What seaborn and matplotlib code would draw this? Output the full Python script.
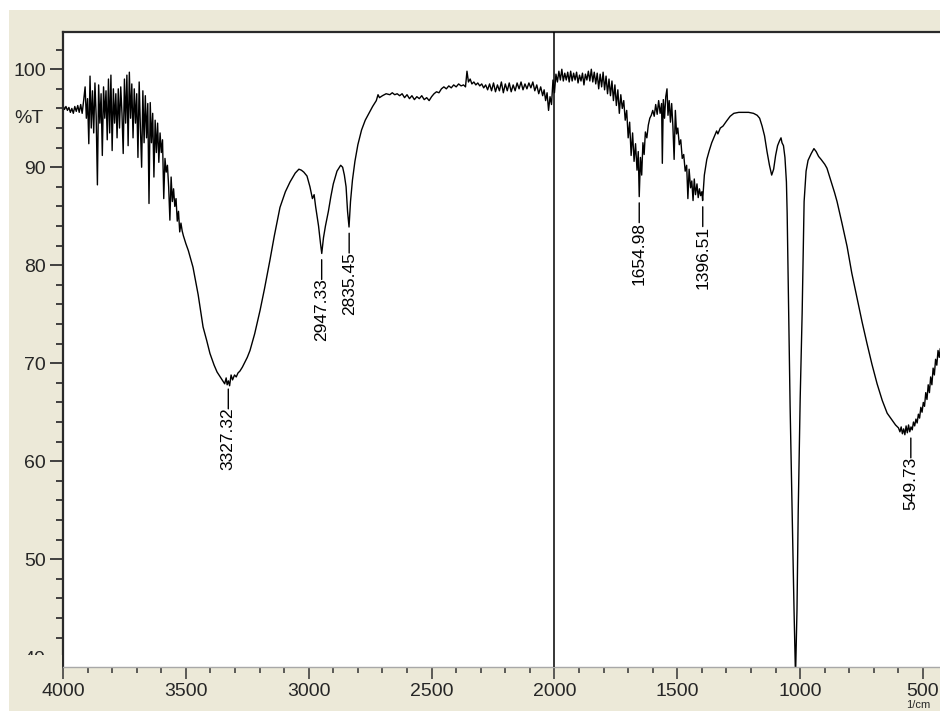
import numpy as np
import pandas as pd
import matplotlib
matplotlib.use("Agg")
import matplotlib.pyplot as plt
import seaborn as sns
from matplotlib.ticker import MultipleLocator
from matplotlib.patches import Rectangle
from matplotlib.transforms import blended_transform_factory

# ---------------- data ----------------
wn_oh_noise = [4000, 3994, 3988, 3982, 3976, 3970, 3964, 3958, 3952, 3946, 3940, 3934, 3928, 3922,
               3916, 3910, 3905, 3900, 3895, 3890, 3885, 3880, 3875, 3870, 3865, 3860, 3855, 3850,
               3845, 3840, 3835, 3830, 3825, 3820, 3815, 3810, 3805, 3800, 3795, 3790, 3785, 3780,
               3775, 3770, 3765, 3760, 3755, 3750, 3745, 3740, 3735, 3730, 3725, 3720, 3715, 3710,
               3705, 3700, 3695, 3690, 3685, 3680, 3675, 3670, 3665, 3660, 3655, 3650, 3645, 3640,
               3635, 3630, 3625, 3620, 3615, 3610, 3605, 3600, 3595, 3590, 3585, 3580, 3575, 3570,
               3565, 3560, 3555, 3550, 3545, 3540, 3535, 3530, 3525, 3520, 3515, 3510, 3505, 3500]
t_oh_noise = [96.3, 95.9, 96.2, 95.8, 96.1, 95.6, 96.0, 95.5, 96.2, 95.7, 96.3, 95.6, 96.4, 95.5,
              96.8, 98.2, 95.0, 97.0, 92.4, 99.3, 94.0, 97.8, 93.5, 98.6, 95.2, 88.2, 98.4, 94.5,
              97.5, 91.2, 98.2, 95.0, 97.8, 92.8, 99.0, 93.5, 99.4, 91.7, 98.0, 94.5, 97.5, 93.0,
              98.0, 94.0, 98.2, 95.5, 91.4, 99.0, 94.5, 99.4, 92.2, 99.7, 95.0, 98.5, 93.0, 98.0,
              94.5, 97.5, 91.0, 98.7, 94.0, 90.0, 97.8, 92.5, 97.3, 93.0, 96.5, 86.3, 96.6, 92.5,
              95.5, 89.0, 94.8, 91.5, 94.5, 90.5, 93.5, 91.5, 92.8, 86.8, 90.9, 89.5, 90.2, 88.0,
              84.6, 89.0, 86.5, 87.8, 86.0, 86.8, 84.5, 85.5, 83.4, 84.3, 83.5, 83.0, 82.6, 82.2]

wn_oh_band = [3490, 3471, 3450, 3430, 3415, 3402, 3385, 3373, 3360, 3350, 3342, 3336, 3332, 3327,
              3322, 3316, 3310, 3302, 3295, 3288, 3280, 3270, 3260, 3250, 3239, 3220, 3198, 3180,
              3158, 3140, 3117, 3095, 3076, 3055, 3040, 3030, 3020, 3007, 2995, 2985, 2978, 2972,
              2960, 2952, 2947, 2940, 2932, 2920, 2910, 2900, 2885, 2870, 2862, 2855, 2848, 2842,
              2836, 2830, 2822, 2812, 2800, 2785, 2770, 2755, 2740, 2725, 2718, 2712, 2700, 2685,
              2670]
t_oh_band = [81.5, 79.8, 77.0, 73.7, 72.3, 71.0, 69.8, 69.1, 68.6, 68.2, 67.9, 68.5, 67.8, 68.2,
             67.7, 68.8, 68.3, 68.8, 68.6, 69.0, 69.2, 69.6, 70.1, 70.6, 71.3, 73.0, 75.4, 77.6,
             80.5, 83.0, 85.9, 87.5, 88.5, 89.4, 89.8, 89.7, 89.5, 89.1, 88.0, 86.8, 87.2, 86.0,
             84.0, 82.2, 81.2, 82.8, 84.0, 85.5, 87.0, 88.3, 89.6, 90.2, 90.0, 89.2, 88.0, 85.5,
             83.9, 86.5, 88.7, 90.6, 92.3, 93.8, 94.8, 95.5, 96.2, 96.8, 97.4, 97.1, 97.3, 97.5,
             97.4]

wn_plateau = [2660, 2650, 2640, 2630, 2620, 2610, 2600, 2590, 2580, 2570, 2560, 2550, 2540, 2530,
              2520, 2510, 2500, 2490, 2480, 2470, 2460, 2450, 2440, 2430, 2420, 2410, 2400, 2390,
              2380, 2370, 2362, 2356, 2350, 2343, 2336, 2328, 2320, 2312, 2304, 2296, 2288, 2280,
              2272, 2264, 2256, 2248, 2240, 2232, 2224, 2216, 2208, 2200, 2192, 2184, 2176, 2168,
              2160, 2152, 2144, 2136, 2128, 2120, 2112, 2104, 2096, 2088, 2080, 2072, 2064, 2056,
              2048, 2042, 2036, 2030, 2024, 2018, 2012, 2006, 2000]
t_plateau = [97.6, 97.4, 97.5, 97.3, 97.5, 97.1, 97.4, 97.0, 97.3, 96.9, 97.2, 97.0, 97.3, 96.9,
             97.1, 96.8, 97.2, 97.5, 97.7, 97.6, 98.0, 98.2, 98.0, 98.3, 98.1, 98.4, 98.2, 98.5,
             98.3, 98.4, 98.2, 99.8, 98.7, 99.0, 98.5, 98.7, 98.4, 98.6, 98.3, 98.5, 98.1, 98.4,
             97.9, 98.5, 97.8, 98.6, 97.7, 98.4, 97.8, 98.7, 97.6, 98.5, 97.8, 98.6, 97.7, 98.4,
             97.8, 98.6, 98.0, 98.7, 97.9, 98.5, 98.0, 98.6, 98.1, 98.7, 97.8, 98.4, 97.5, 98.2,
             97.3, 97.9, 96.8, 97.6, 95.8, 97.2, 96.4, 98.9, 97.6]

wn_fingerprint = [1994, 1988, 1982, 1976, 1970, 1964, 1958, 1952, 1946, 1940, 1934, 1928, 1922, 1916,
                  1910, 1904, 1898, 1892, 1886, 1880, 1874, 1868, 1862, 1856, 1850, 1844, 1838, 1832,
                  1826, 1820, 1814, 1808, 1802, 1796, 1790, 1784, 1778, 1772, 1766, 1760, 1754, 1748,
                  1742, 1736, 1730, 1724, 1718, 1712, 1706, 1700, 1694, 1688, 1682, 1676, 1670, 1664,
                  1659, 1655, 1650, 1645, 1640, 1635, 1630, 1624, 1618, 1612, 1606, 1600, 1594, 1588,
                  1582, 1576, 1570, 1564, 1561, 1557, 1552, 1547, 1542, 1538, 1533, 1528, 1523, 1518,
                  1513, 1508, 1503, 1498, 1492, 1486, 1480, 1474, 1468, 1462, 1457, 1452, 1446, 1441,
                  1436, 1431, 1426, 1420, 1415, 1410, 1405, 1400, 1397]
t_fingerprint = [99.5, 98.7, 99.8, 98.9, 100.0, 98.8, 99.6, 98.9, 99.7, 98.7, 99.8, 98.8, 99.6, 98.9,
                 99.7, 98.6, 99.4, 98.8, 99.6, 98.4, 99.5, 98.9, 99.8, 98.8, 100.0, 98.7, 99.7, 98.5,
                 99.6, 98.0, 99.5, 98.2, 99.7, 97.9, 99.3, 97.5, 99.0, 97.3, 98.8, 96.8, 98.4, 96.3,
                 97.9, 95.5, 97.4, 96.0, 96.8, 94.8, 95.8, 93.0, 94.6, 91.2, 93.5, 90.6, 92.4, 89.7,
                 91.6, 87.0, 91.0, 89.2, 92.5, 91.3, 93.6, 93.0, 94.3, 95.0, 95.3, 95.8, 95.2, 96.4,
                 95.4, 96.8, 95.5, 96.5, 90.4, 96.9, 95.0, 97.2, 98.0, 95.3, 96.8, 94.6, 96.5, 94.2,
                 90.8, 95.8, 93.4, 94.0, 92.3, 92.8, 90.9, 91.3, 89.6, 90.2, 86.8, 89.8, 87.9, 88.6,
                 86.6, 88.8, 87.2, 88.3, 86.9, 87.8, 87.1, 87.5, 86.6]

wn_low = [1390, 1380, 1370, 1360, 1350, 1340, 1335, 1325, 1314, 1300, 1285, 1270, 1250, 1230,
          1210, 1190, 1175, 1165, 1155, 1145, 1135, 1125, 1116, 1108, 1100, 1092, 1084, 1078,
          1074, 1068, 1062, 1056, 1053, 1047, 1041, 1033, 1025, 1019, 1013, 1008, 1000, 992,
          984, 976, 968, 955, 944, 935, 925, 915, 900, 891, 880, 870, 860, 850, 830, 809,
          790, 768, 748, 728, 708, 687, 666, 646, 626, 612, 600, 594, 589, 584, 579, 574,
          569, 564, 559, 554, 549, 544, 539, 534, 529, 524, 519, 514, 509, 504, 499, 494,
          489, 484, 479, 474, 469, 464, 459, 454, 449, 444, 439, 434, 430]
t_low = [89.2, 90.8, 91.7, 92.5, 93.1, 93.7, 93.4, 94.0, 94.2, 94.7, 95.2, 95.5, 95.6, 95.6,
         95.6, 95.5, 95.3, 95.0, 94.2, 93.2, 91.6, 90.2, 89.2, 89.8, 91.2, 92.2, 92.7, 93.0,
         92.5, 92.2, 91.0, 88.5, 85.3, 75.5, 65.6, 54.9, 44.8, 38.0, 44.8, 54.9, 66.4, 75.1,
         86.5, 89.6, 90.7, 91.4, 91.9, 91.6, 91.1, 90.8, 90.3, 89.9, 89.0, 88.2, 87.4, 86.5, 84.3, 81.9,
         79.2, 76.6, 74.2, 72.0, 69.9, 67.9, 66.2, 64.9, 64.2, 63.7, 63.4, 63.0, 63.5, 62.8, 63.3, 62.7,
         63.6, 62.9, 63.7, 63.0, 63.5, 63.2, 64.0, 63.6, 64.3, 63.9, 64.8, 64.4, 65.5, 65.0, 66.0, 65.6,
         67.0, 66.3, 67.8, 67.0, 68.6, 67.8, 69.5, 68.8, 70.4, 69.8, 71.3, 70.6, 71.5]

peak_wn = [3327.32, 2947.33, 2835.45, 1654.98, 1396.51, 549.73]
peak_t = [68.0, 81.2, 83.9, 87.0, 86.6, 63.0]
peak_labels = ["3327.32", "2947.33", "2835.45", "1654.98", "1396.51", "549.73"]

x_ticks = [4000, 3500, 3000, 2500, 2000, 1500, 1000, 500]
y_ticks = [40, 50, 60, 70, 80, 90, 100]

# ---------------- figure ----------------
sns.set_style("white")
plt.rcParams["font.family"] = ["Liberation Sans", "DejaVu Sans"]

W, H = 940, 711
BEIGE = "#ECE9D8"
fig = plt.figure(figsize=(W / 100, H / 100), dpi=100, facecolor="white")
fig.patches.append(Rectangle((9 / W, 0), 1 - 9 / W, 1 - 10 / H, transform=fig.transFigure,
                             facecolor=BEIGE, edgecolor="none", zorder=-10))

ax = fig.add_axes([63 / W, 1 - 667 / H, (W - 63) / W, (667 - 32) / H])
ax.set_facecolor("white")

df = pd.DataFrame({
    "wn": wn_oh_noise + wn_oh_band + wn_plateau + wn_fingerprint + wn_low,
    "T": t_oh_noise + t_oh_band + t_plateau + t_fingerprint + t_low,
})
sns.lineplot(data=df, x="wn", y="T", color="black", lw=1.0, estimator=None, sort=False,
             ax=ax, legend=False)

ax.axvline(2000, color="black", lw=1.1, zorder=3)

ax.set_xlim(4000, 431)
ax.set_ylim(39, 103.8)
ax.set_xticks(x_ticks)
ax.set_xticklabels([str(v) for v in x_ticks])
ax.set_yticks(y_ticks)
ax.set_yticklabels([str(v) for v in y_ticks])
ax.xaxis.set_minor_locator(MultipleLocator(100))
ax.yaxis.set_minor_locator(MultipleLocator(2))
ax.set_xlabel("")
ax.set_ylabel("")

ax.tick_params(axis="x", which="major", direction="out", length=8.5, width=1.1, color="#333333",
               labelsize=14, pad=3, bottom=True)
ax.tick_params(axis="x", which="minor", direction="out", length=4.5, width=1.1, color="#333333",
               bottom=True)
ax.tick_params(axis="y", which="major", direction="out", length=9.5, width=1.3, color="#333333",
               labelsize=14, pad=3, left=True)
ax.tick_params(axis="y", which="minor", direction="out", length=5, width=1.3, color="#333333",
               left=True)

for side in ["left", "top"]:
    ax.spines[side].set_color("#2a2a2a")
    ax.spines[side].set_linewidth(1.6)
ax.spines["bottom"].set_color("#a8a8a8")
ax.spines["bottom"].set_linewidth(1.0)
ax.spines["right"].set_visible(False)

# y-axis unit label
tr = blended_transform_factory(fig.transFigure, ax.transData)
ax.text(29 / W, 95, "%T", transform=tr, ha="center", va="center", fontsize=14, clip_on=False)

# peak labels: short connector line, then rotated text directly below
for wn, t, lab in zip(peak_wn, peak_t, peak_labels):
    ax.annotate("", xy=(wn, t), xytext=(0, -26), textcoords="offset pixels",
                arrowprops=dict(arrowstyle="-", color="black", lw=1.0,
                                shrinkA=0, shrinkB=4.5))
    ax.annotate(lab, xy=(wn, t), xytext=(0, -25), textcoords="offset pixels",
                rotation=90, ha="center", va="top", fontsize=12.5, color="black")

# cover the clipped lower part of the "40" label, like the reference
fig.patches.append(Rectangle((9 / W, 1 - 670 / H), 53 / W, 15 / H, transform=fig.transFigure,
                             facecolor=BEIGE, edgecolor="none", zorder=5))

# x unit text at the bottom edge
fig.text(906 / W, 1 - 700 / H, "1/cm", ha="left", va="top", fontsize=8)

fig.savefig("out.png", dpi=100, facecolor=fig.get_facecolor())
